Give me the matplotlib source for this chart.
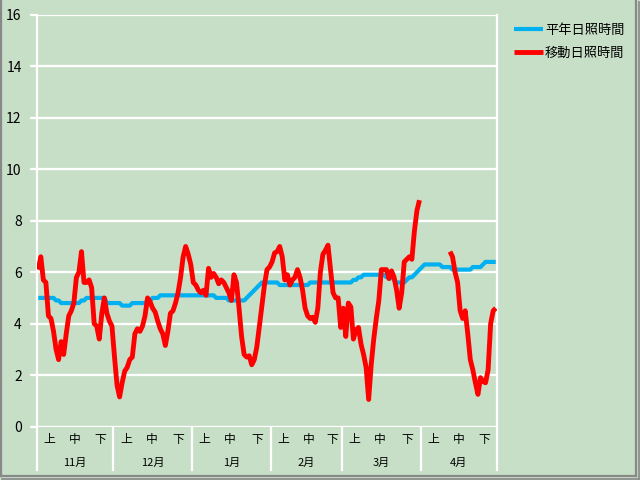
import numpy as np
import matplotlib
matplotlib.use("Agg")
from matplotlib import pyplot as plt
from matplotlib import transforms

plt.rcParams['font.family'] = ['Noto Sans CJK JP', 'DejaVu Sans']

# months on the category axis and their number of days (Nov - Apr)
months = ["11月", "12月", "1月", "2月", "3月", "4月"]
month_days = [30, 31, 31, 28, 31, 30]
dekads = ["上", "中", "下"]

# normal sunshine hours (daily, Nov 1 - Apr 30)
normal_hours = [
    5.0, 5.0, 5.0, 5.0, 5.0, 5.0, 5.0, 4.9, 4.9, 4.8,
    4.8, 4.8, 4.8, 4.8, 4.8, 4.8, 4.8, 4.9, 4.9, 5.0,
    5.0, 5.0, 5.0, 5.0, 5.0, 5.0, 5.0, 4.8, 4.8, 4.8,
    4.8, 4.8, 4.8, 4.7, 4.7, 4.7, 4.7, 4.8, 4.8, 4.8,
    4.8, 4.8, 4.8, 4.9, 4.9, 5.0, 5.0, 5.0, 5.1, 5.1,
    5.1, 5.1, 5.1, 5.1, 5.1, 5.1, 5.1, 5.1, 5.1, 5.1,
    5.1, 5.1, 5.1, 5.1, 5.1, 5.1, 5.1, 5.1, 5.1, 5.1,
    5.0, 5.0, 5.0, 5.0, 5.0, 4.9, 4.9, 4.9, 4.9, 4.9,
    4.9, 4.9, 5.0, 5.1, 5.2, 5.3, 5.4, 5.5, 5.6, 5.6,
    5.6, 5.6, 5.6, 5.6, 5.6, 5.5, 5.5, 5.5, 5.5, 5.5,
    5.5, 5.5, 5.5, 5.5, 5.5, 5.5, 5.5, 5.6, 5.6, 5.6,
    5.6, 5.6, 5.6, 5.6, 5.6, 5.6, 5.6, 5.6, 5.6, 5.6,
    5.6, 5.6, 5.6, 5.6, 5.7, 5.7, 5.8, 5.8, 5.9, 5.9,
    5.9, 5.9, 5.9, 5.9, 5.9, 5.9, 5.9, 5.8, 5.8, 5.8,
    5.7, 5.6, 5.6, 5.6, 5.6, 5.7, 5.8, 5.8, 5.9, 6.0,
    6.1, 6.2, 6.3, 6.3, 6.3, 6.3, 6.3, 6.3, 6.3, 6.2,
    6.2, 6.2, 6.2, 6.1, 6.1, 6.1, 6.1, 6.1, 6.1, 6.1,
    6.1, 6.2, 6.2, 6.2, 6.2, 6.3, 6.4, 6.4, 6.4, 6.4,
    6.4,
]

# moving sunshine hours (daily, gap = no data)
nan = np.nan
moving_hours = [
    6.1, 6.6, 5.7, 5.6, 4.3, 4.2, 3.7, 3.0, 2.6, 3.3,
    2.8, 3.6, 4.3, 4.5, 4.8, 5.8, 6.0, 6.8, 5.6, 5.6,
    5.7, 5.4, 4.0, 3.9, 3.4, 4.4, 5.0, 4.4, 4.1, 3.9,
    2.7, 1.6, 1.15, 1.7, 2.15, 2.3, 2.6, 2.7, 3.6, 3.8,
    3.7, 3.9, 4.3, 5.0, 4.85, 4.6, 4.45, 4.1, 3.8, 3.6,
    3.15, 3.7, 4.4, 4.5, 4.8, 5.2, 5.8, 6.6, 7.0, 6.7,
    6.3, 5.6, 5.5, 5.3, 5.2, 5.3, 5.1, 6.15, 5.8, 5.95,
    5.8, 5.55, 5.7, 5.6, 5.4, 5.2, 4.9, 5.9, 5.6, 4.6,
    3.5, 2.8, 2.7, 2.75, 2.4, 2.6, 3.1, 3.9, 4.7, 5.5,
    6.1, 6.2, 6.4, 6.75, 6.8, 7.0, 6.6, 5.7, 5.9, 5.5,
    5.7, 5.8, 6.1, 5.8, 5.3, 4.6, 4.3, 4.2, 4.25, 4.05,
    4.6, 6.0, 6.7, 6.85, 7.05, 6.1, 5.2, 5.0, 5.0, 3.85,
    4.6, 3.5, 4.8, 4.65, 3.4, 3.75, 3.85, 3.2, 2.8, 2.3,
    1.05, 2.4, 3.4, 4.2, 4.9, 6.1, 6.1, 6.1, 5.75, 6.05,
    5.8, 5.3, 4.6, 5.2, 6.4, 6.5, 6.6, 6.5, 7.6, 8.4,
    8.8, nan, nan, nan, nan, nan, nan, nan, nan, nan,
    nan, nan, 6.8, 6.6, 6.0, 5.6, 4.5, 4.2, 4.5, 3.6,
    2.6, 2.2, 1.7, 1.25, 1.9, 1.75, 1.7, 2.2, 4.0, 4.5,
    4.6,
]

series_names = ["平年日照時間", "移動日照時間"]

bg = "#C8DFC7"
blue = "#00B0F0"
red = "#FF0000"

W, H = 640, 480
fig = plt.figure(figsize=(6.4, 4.8), dpi=100, facecolor=bg)
ax = fig.add_axes([37 / W, 1 - 426.5 / H, 460 / W, 411.5 / H])
ax.set_facecolor(bg)

n = len(normal_hours)
x = np.arange(n) + 0.5
ax.plot(x, normal_hours, color=blue, lw=3.0, solid_capstyle="butt", label=series_names[0], zorder=3)
ax.plot(x, moving_hours, color=red, lw=3.5, solid_capstyle="butt", label=series_names[1], zorder=4)

ax.set_xlim(0, n)
ax.set_ylim(0, 16)
ax.set_yticks(np.arange(0, 17, 2))
ax.grid(axis="y", color="white", lw=1.6)
ax.set_axisbelow(True)
ax.tick_params(axis="y", length=5, width=1.6, color="white", labelsize=10, pad=6)
ax.set_xticks([])
for s in ["top", "bottom", "left", "right"]:
    ax.spines[s].set_visible(False)

# white frame lines of the plot area, running down through the category axis
trans = transforms.blended_transform_factory(ax.transData, ax.transAxes)
bottom_ext = -43.5 / 411.5
edges = np.concatenate([[0], np.cumsum(month_days)])
for i, e in enumerate(edges):
    top = 1.0 if i in (0, len(edges) - 1) else 0.0
    ax.plot([e, e], [bottom_ext, top], color="white", lw=1.6, transform=trans, clip_on=False, zorder=2)

# dekad and month labels
for m, (name, nd) in enumerate(zip(months, month_days)):
    start = edges[m]
    centers = [start + 5, start + 15, start + (20 + nd) / 2]
    for c, d in zip(centers, dekads):
        ax.text(c, -13 / 411.5, d, transform=trans, ha="center", va="center", fontsize=8.5)
    ax.text(start + nd / 2, -36 / 411.5, name, transform=trans, ha="center", va="center", fontsize=8)

fig.legend(loc="upper left", bbox_to_anchor=(502 / W, 1 - 12 / H), frameon=False,
           fontsize=9.5, handlelength=2.2, handletextpad=0.15, labelspacing=0.75)

# chart border with shadow
def fline(xs, ys, **kw):
    fig.add_artist(plt.Line2D([v / W for v in xs], [1 - v / H for v in ys], transform=fig.transFigure, **kw))

fline([0.8, 0.8], [0, 476], color="#888888", lw=1.6)
fline([0, 636], [476, 476], color="#888888", lw=1.6)
fline([636, 636], [0, 476], color="#888888", lw=1.6)
fline([2, 639], [479, 479], color="#888888", lw=1.2)
fline([639, 639], [2, 479], color="#888888", lw=1.2)

fig.savefig("out.png", dpi=100, facecolor=bg)
